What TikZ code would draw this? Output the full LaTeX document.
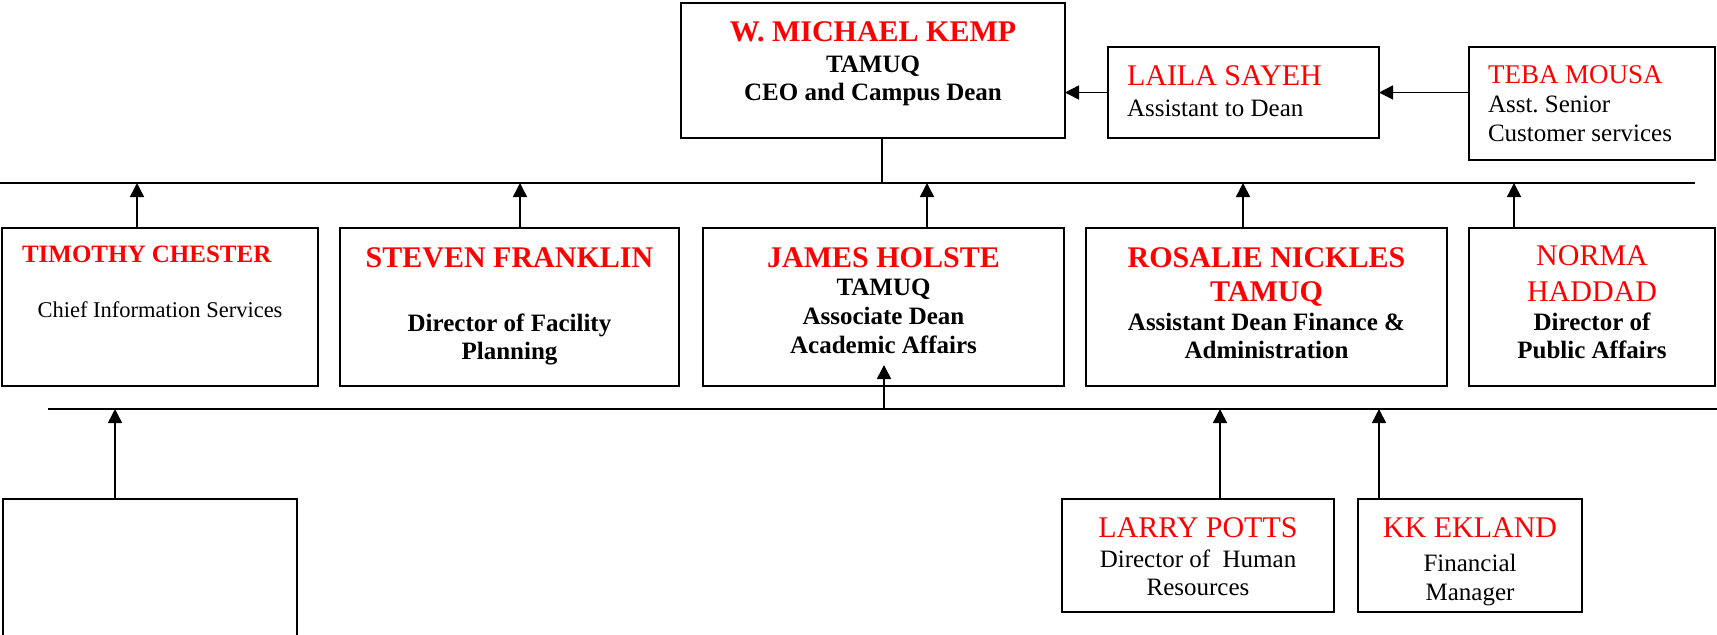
\documentclass[tikz,border=0pt]{standalone}
\usepackage{fontspec}
\setmainfont{Liberation Serif}
\usetikzlibrary{arrows.meta}
\newlength{\px}\setlength{\px}{0.5pt}
\newcommand{\card}[3]{\parbox[c][#2\px][t]{#1\px}{#3}}
\newcommand{\fline}[3]{{\fontsize{#1}{#1}\selectfont\leavevmode\rule{0pt}{#2\px}#3\par}}
\newcommand{\tline}[3]{{\fontsize{#1}{#2\px}\selectfont\leavevmode#3\par}}
\tikzset{unit/.style={draw, rectangle, line width=1pt}}
\tikzset{feed/.style={-{Triangle[length=7pt,width=7pt]}, line width=0.8pt}}
\tikzset{bus/.style={line width=1pt}}

\begin{document}
\begin{tikzpicture}[x=0.5pt, y=-0.5pt]
\tikzstyle{every node}=[inner sep=0pt, outer sep=0pt, anchor=north west]
\useasboundingbox (0,0) rectangle (1717,634);
\clip (0,0) rectangle (1717,634);
\node[unit] (kemp) at (681,3) {\card{384}{135}{\centering
  \fline{15}{38}{\color{red}\bfseries W. MICHAEL KEMP}
  \tline{12.5}{31}{\bfseries TAMUQ}
  \tline{12.5}{28}{\bfseries CEO and Campus Dean}}};
\node[unit] (sayeh) at (1108,47) {\card{271}{91}{\raggedright\leftskip=19\px
  \fline{15}{38}{\color{red}LAILA SAYEH}
  \tline{12.5}{31}{Assistant to Dean}}};
\node[unit] (mousa) at (1469,47) {\card{246}{113}{\raggedright\leftskip=19\px
  \fline{13.5}{36}{\color{red}TEBA MOUSA}
  \tline{12.5}{29}{Asst.\ Senior}
  \tline{12.5}{29}{Customer services}}};
\node[unit] (chester) at (2,228) {\card{316}{158}{\raggedright
  \fline{12.5}{34}{\hspace*{20\px}\color{red}\bfseries TIMOTHY CHESTER}
  \tline{11.25}{55}{\centering Chief Information Services}}};
\node[unit] (franklin) at (340,228) {\card{339}{158}{\centering
  \fline{15}{39}{\color{red}\bfseries STEVEN FRANKLIN}
  \tline{12.5}{64}{\bfseries Director of Facility}
  \tline{12.5}{28}{\bfseries Planning}}};
\node[unit] (holste) at (703,228) {\card{361}{158}{\centering
  \fline{15}{39}{\color{red}\bfseries JAMES HOLSTE}
  \tline{12.5}{28}{\bfseries TAMUQ}
  \tline{12.5}{29}{\bfseries Associate Dean}
  \tline{12.5}{29}{\bfseries Academic Affairs}}};
\node[unit] (nickles) at (1086,228) {\card{361}{158}{\centering
  \fline{15}{39}{\color{red}\bfseries ROSALIE NICKLES}
  \tline{15}{34}{\color{red}\bfseries TAMUQ}
  \tline{12.5}{29}{\bfseries Assistant Dean Finance \&}
  \tline{12.5}{28}{\bfseries Administration}}};
\node[unit] (haddad) at (1469,228) {\card{246}{158}{\centering
  \fline{15}{37}{\color{red}NORMA}
  \tline{15}{36}{\color{red}HADDAD}
  \tline{12.5}{29}{\bfseries Director of}
  \tline{12.5}{28}{\bfseries Public Affairs}}};
\node[unit, minimum width=294\px, minimum height=160\px] (vacant) at (3,499) {};
\node[unit] (potts) at (1062,499) {\card{272}{113}{\centering
  \fline{15}{38}{\color{red}LARRY POTTS}
  \tline{12.5}{30}{Director of\ \ Human}
  \tline{12.5}{28}{Resources}}};
\node[unit] (ekland) at (1358,499) {\card{224}{113}{\centering
  \fline{15}{38}{\color{red}KK EKLAND}
  \tline{12.5}{34}{Financial}
  \tline{12.5}{29}{Manager}}};

\coordinate (busA w) at (0,183);
\coordinate (busA e) at (1695,183);
\coordinate (busB w) at (48,409);
\coordinate (busB e) at (1717,409);
\draw[bus] (busA w) -- (busA e);
\draw[bus] (busB w) -- (busB e);

\coordinate (drop) at (882,183);
\draw[line width=0.6pt] (kemp.south -| drop) -- (drop);
\draw[feed] (sayeh.west) -- (kemp.east |- sayeh.west);
\draw[feed] (mousa.west |- sayeh.east) -- (sayeh.east);

\foreach \n/\x in {chester/137, franklin/520, holste/927, nickles/1243, haddad/1514}
  {\coordinate (up\n) at (\x,183);
   \draw[feed] (\n.north -| up\n) -- (up\n);}
\foreach \n/\x in {vacant/115, potts/1220, ekland/1379}
  {\coordinate (low\n) at (\x,409);
   \draw[feed] (\n.north -| low\n) -- (low\n);}
\coordinate (lowholste) at (884,409);
\draw[feed] (lowholste) -- ([yshift=21\px]lowholste |- holste.south);
\end{tikzpicture}
\end{document}
